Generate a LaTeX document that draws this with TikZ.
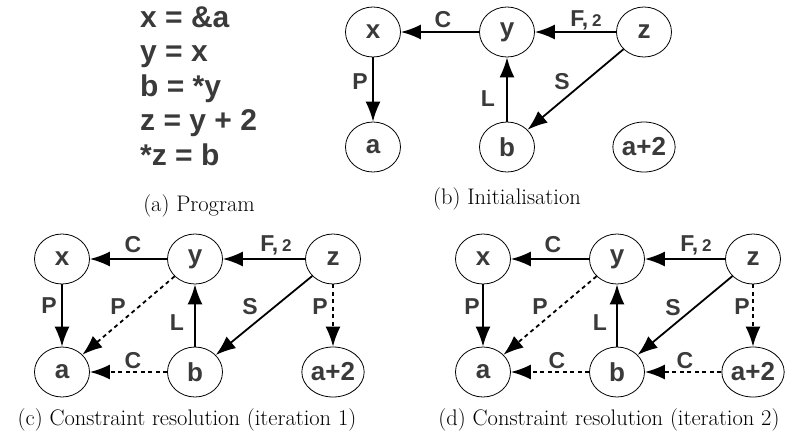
\documentclass[tikz,border=0pt]{standalone}
\usepackage{fontspec}
\newfontfamily\lsans{Liberation Sans}
\usetikzlibrary{shapes.geometric,arrows.meta}
\definecolor{txt}{HTML}{3A3A3A}
\tikzset{
  gnode/.style={draw=black, line width=0.8pt, ellipse, minimum width=55pt, minimum height=50pt, inner sep=0pt,
    text=txt, font=\lsans\bfseries\fontsize{26}{26}\selectfont},
  edge/.style={line width=1.8pt, -{Latex[length=20pt,width=15pt]}},
  dedge/.style={edge, dash pattern=on 4pt off 3.5pt},
  elab/.style={text=txt, font=\lsans\bfseries\fontsize{23}{23}\selectfont, inner sep=0pt},
  prog/.style={text=txt, font=\lsans\bfseries\fontsize{30}{30}\selectfont, inner sep=0pt, anchor=base west},
  capt/.style={font=\fontsize{22.5}{26}\selectfont, inner sep=0pt}
}
\newcommand{\Ftwo}{F,\,{\fontsize{17}{17}\selectfont 2}}
\begin{document}
\begin{tikzpicture}[x=1pt,y=-1pt]
\useasboundingbox (0,0) rectangle (804,440);
% (a) program
\node[prog] (p1) at (140,27) {x = \&a};
\node[prog] (p2) at (140,61.5) {y = x};
\node[prog] (p3) at (140,96) {b = *y};
\node[prog] (p4) at (140,130.5) {z = y + 2};
\node[prog] (p5) at (140,165) {*z = b};
\node[capt] (ca) at (199,206) {(a) Program};
% (b) initialisation
\node[gnode] (bx) at (373,32) {x};
\node[gnode] (by) at (507,32) {y};
\node[gnode] (bz) at (644,32) {z};
\node[gnode] (ba) at (373,147) {a};
\node[gnode] (bb) at (507,147) {b};
\node[gnode] (bc) at (644,147) {a+2};
\draw[edge] (by) -- (bx);
\draw[edge] (bz) -- (by);
\draw[edge] (bx) -- (ba);
\draw[edge] (bb) -- (by);
\draw[edge] (bz) -- (bb);
\node[elab] (lbC) at (443,20) {C};
\node[elab] (lbF) at (586,20) {\Ftwo};
\node[elab] (lbP) at (360,82) {P};
\node[elab] (lbL) at (488,99) {L};
\node[elab] (lbS) at (562,82) {S};
\node[capt] (cb) at (507,199) {(b) Initialisation};
% (c) iteration 1
\node[gnode] (cx) at (62,259) {x};
\node[gnode] (cy) at (195,259) {y};
\node[gnode] (cz) at (333,259) {z};
\node[gnode] (ca1) at (62,372) {a};
\node[gnode] (cb1) at (195,372) {b};
\node[gnode] (cc) at (333,372) {a+2};
\draw[edge] (cy) -- (cx);
\draw[edge] (cz) -- (cy);
\draw[edge] (cx) -- (ca1);
\draw[edge] (cb1) -- (cy);
\draw[edge] (cz) -- (cb1);
\draw[dedge] (cy) -- (ca1);
\draw[dedge] (cz) -- (cc);
\draw[dedge] (cb1) -- (ca1);
\node[elab] (lcC) at (133,245) {C};
\node[elab] (lcF) at (276,245) {\Ftwo};
\node[elab] (lcP) at (49,306) {P};
\node[elab] (lcP2) at (118,307) {P};
\node[elab] (lcL) at (177,323) {L};
\node[elab] (lcS) at (250,307) {S};
\node[elab] (lcP3) at (320,307) {P};
\node[elab] (lcC2) at (133,361) {C};
\node[capt] (cc1) at (187,420) {(c) Constraint resolution (iteration 1)};
% (d) iteration 2
\node[gnode] (dx) at (483,259) {x};
\node[gnode] (dy) at (617,259) {y};
\node[gnode] (dz) at (753,259) {z};
\node[gnode] (da) at (483,372) {a};
\node[gnode] (db) at (617,372) {b};
\node[gnode] (dc) at (753,372) {a+2};
\draw[edge] (dy) -- (dx);
\draw[edge] (dz) -- (dy);
\draw[edge] (dx) -- (da);
\draw[edge] (db) -- (dy);
\draw[edge] (dz) -- (db);
\draw[dedge] (dy) -- (da);
\draw[dedge] (dz) -- (dc);
\draw[dedge] (db) -- (da);
\draw[dedge] (dc) -- (db);
\node[elab] (ldC) at (553,245) {C};
\node[elab] (ldF) at (696,245) {\Ftwo};
\node[elab] (ldP) at (472,307) {P};
\node[elab] (ldP2) at (540,307) {P};
\node[elab] (ldL) at (600,323) {L};
\node[elab] (ldS) at (673,308) {S};
\node[elab] (ldP3) at (742,307) {P};
\node[elab] (ldC2) at (557,361) {C};
\node[elab] (ldC3) at (685,361) {C};
\node[capt] (cd) at (609,420) {(d) Constraint resolution (iteration 2)};
\end{tikzpicture}
\end{document}
